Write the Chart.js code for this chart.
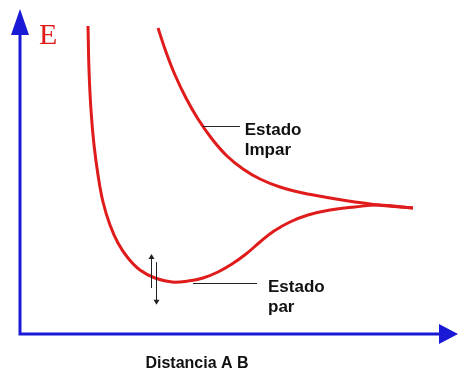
<!DOCTYPE html>
<html>
<head>
<meta charset="utf-8">
<script src="https://cdn.jsdelivr.net/npm/chart.js@4.4.0/dist/chart.umd.min.js"></script>
<style>
  html, body { margin: 0; padding: 0; background: #fff; }
  #wrap { width: 459px; height: 374px; }
</style>
</head>
<body>
<div id="wrap"><canvas id="chart"></canvas></div>
<script>
// Energy curves vs. A-B distance (arbitrary units, 0..10 on both axes)
const distEven   = [1.549, 1.572, 1.617, 1.686, 1.777, 1.891, 2.050, 2.232, 2.460, 2.733, 3.075, 3.462, 3.827, 4.169, 4.510, 4.829, 5.148, 5.467, 5.786, 6.150, 6.560, 7.062, 7.631, 8.155, 8.952];
const energyEven = [9.506, 8.148, 6.914, 5.833, 4.907, 4.074, 3.364, 2.809, 2.346, 1.975, 1.728, 1.605, 1.636, 1.728, 1.914, 2.160, 2.469, 2.840, 3.179, 3.457, 3.673, 3.827, 3.920, 3.981, 3.889];

const distOdd    = [3.144, 3.326, 3.531, 3.781, 4.055, 4.374, 4.715, 5.080, 5.467, 5.923, 6.446, 7.062, 7.631, 8.155, 8.952];
const energyOdd  = [9.444, 8.704, 7.994, 7.284, 6.636, 6.019, 5.494, 5.093, 4.784, 4.537, 4.352, 4.198, 4.074, 3.981, 3.889];

const stateLabels = ['Estado Impar', 'Estado par'];
const axisLabelX = 'Distancia A B';
const axisLabelY = 'E';

const RED = '#e01b1b';
const BLUE = '#1a1ad6';
const INK = '#111111';

const toPoints = (xs, ys) => xs.map((x, i) => ({ x, y: ys[i] }));

// callouts, in data units
const callouts = [
  { from: [4.17, 6.42], to: [5.01, 6.42], text: stateLabels[0], at: [5.12, 6.15] },
  { from: [3.94, 1.57], to: [5.40, 1.57], text: stateLabels[1], at: [5.65, 1.30] }
];

function arrowHead(ctx, x, y, dir, half, len) {
  // dir: 'up' | 'down' | 'right'
  ctx.beginPath();
  if (dir === 'up') { ctx.moveTo(x, y); ctx.lineTo(x - half, y + len); ctx.lineTo(x + half, y + len); }
  else if (dir === 'down') { ctx.moveTo(x, y); ctx.lineTo(x - half, y - len); ctx.lineTo(x + half, y - len); }
  else { ctx.moveTo(x, y); ctx.lineTo(x - len, y - half); ctx.lineTo(x - len, y + half); }
  ctx.closePath();
  ctx.fill();
}

const sketchDecor = {
  id: 'sketchDecor',
  beforeDatasetsDraw(chart) {
    const { ctx, chartArea: a } = chart;
    ctx.save();
    ctx.strokeStyle = BLUE;
    ctx.fillStyle = BLUE;
    ctx.lineWidth = 3;
    ctx.lineJoin = 'miter';
    ctx.beginPath();
    ctx.moveTo(a.left, a.top + 22);
    ctx.lineTo(a.left, a.bottom);
    ctx.lineTo(a.right - 16, a.bottom);
    ctx.stroke();
    arrowHead(ctx, a.left, a.top - 1, 'up', 9, 26);
    arrowHead(ctx, a.right - 1, a.bottom, 'right', 10, 19);

    ctx.fillStyle = RED;
    ctx.font = '30px "Liberation Serif", "DejaVu Serif", serif';
    ctx.textAlign = 'left';
    ctx.textBaseline = 'alphabetic';
    ctx.fillText(axisLabelY, a.left + 19, a.top + 34);

    ctx.fillStyle = INK;
    ctx.font = 'bold 16px "Liberation Sans", Arial, sans-serif';
    ctx.textAlign = 'center';
    ctx.fillText(axisLabelX, a.left + 177, a.bottom + 34);
    ctx.restore();
  },
  afterDatasetsDraw(chart) {
    const { ctx } = chart;
    const sx = chart.scales.x, sy = chart.scales.y;
    const px = v => sx.getPixelForValue(v), py = v => sy.getPixelForValue(v);
    ctx.save();
    ctx.strokeStyle = '#222';
    ctx.fillStyle = INK;
    ctx.lineWidth = 1;
    ctx.font = 'bold 17px "Liberation Sans", Arial, sans-serif';
    ctx.textAlign = 'left';
    ctx.textBaseline = 'alphabetic';
    callouts.forEach(c => {
      ctx.beginPath();
      ctx.moveTo(px(c.from[0]), Math.round(py(c.from[1])) + 0.5);
      ctx.lineTo(px(c.to[0]), Math.round(py(c.to[1])) + 0.5);
      ctx.stroke();
      const words = c.text.split(' ');
      ctx.fillText(words[0], px(c.at[0]), py(c.at[1]));
      ctx.fillText(words[1], px(c.at[0]), py(c.at[1]) + 20);
    });

    // vibration arrows near the minimum of the even state
    const ux = Math.round(px(2.98)) + 0.5, dx = Math.round(px(3.10)) + 0.5;
    ctx.beginPath();
    ctx.moveTo(ux, py(1.42)); ctx.lineTo(ux, py(2.40));
    ctx.moveTo(dx, py(2.22)); ctx.lineTo(dx, py(1.00));
    ctx.stroke();
    ctx.fillStyle = '#222';
    arrowHead(ctx, ux, py(2.47), 'up', 3, 5);
    arrowHead(ctx, dx, py(0.90), 'down', 3, 5);
    ctx.restore();
  }
};

const curveStyle = {
  borderColor: RED,
  borderWidth: 3,
  pointRadius: 0,
  fill: false,
  tension: 0.4
};

new Chart(document.getElementById('chart'), {
  type: 'line',
  data: {
    datasets: [
      { label: stateLabels[1], data: toPoints(distEven, energyEven), ...curveStyle },
      { label: stateLabels[0], data: toPoints(distOdd, energyOdd), ...curveStyle }
    ]
  },
  options: {
    responsive: true,
    maintainAspectRatio: false,
    animation: false,
    layout: { padding: { left: 20, right: 0, top: 10, bottom: 40 } },
    plugins: { legend: { display: false }, tooltip: { enabled: false } },
    scales: {
      x: { type: 'linear', min: 0, max: 10, display: false },
      y: { type: 'linear', min: 0, max: 10, display: false }
    }
  },
  plugins: [sketchDecor]
});
</script>
</body>
</html>
